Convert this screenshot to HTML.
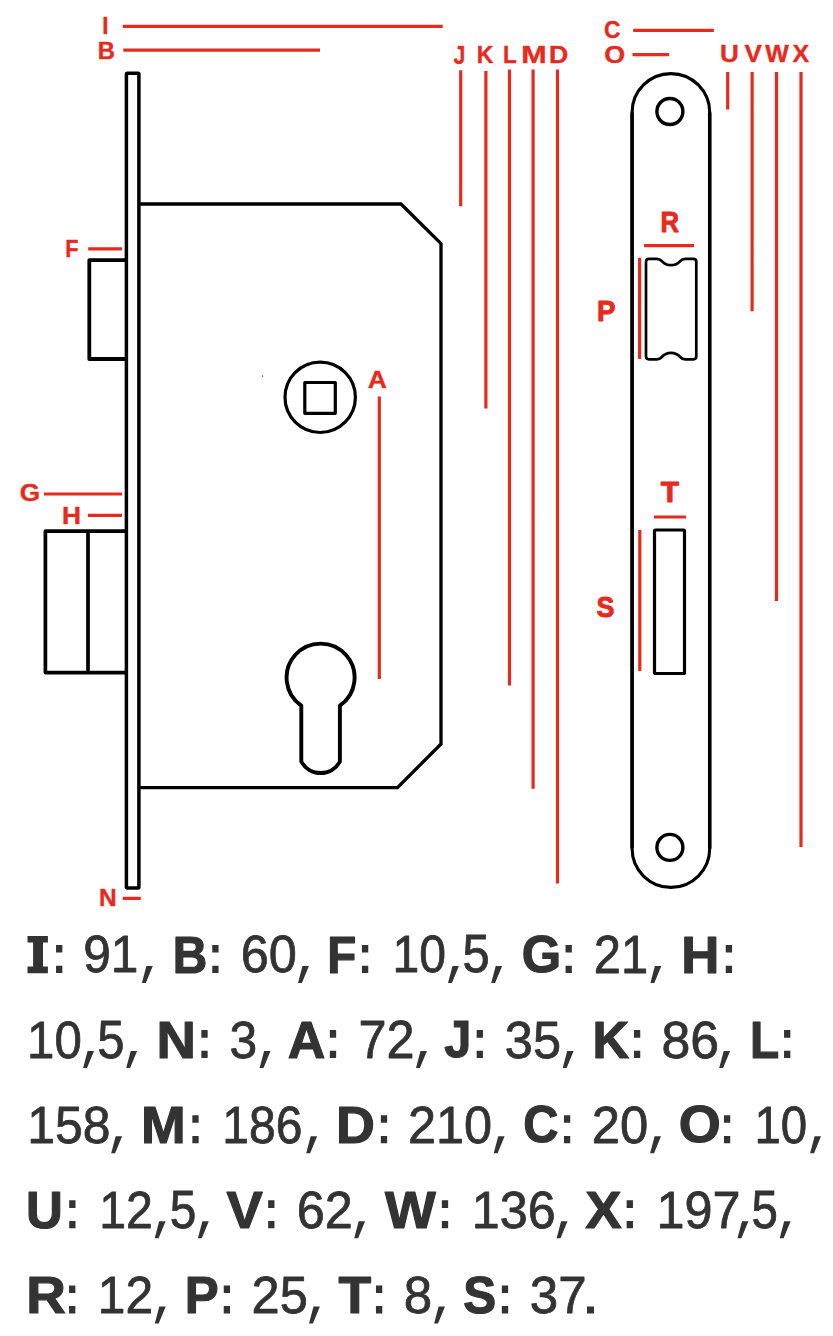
<!DOCTYPE html>
<html><head><meta charset="utf-8"><style>
html,body{margin:0;padding:0;background:#fff;}
body{width:833px;height:1336px;overflow:hidden;}
svg{display:block;}
</style></head><body>
<svg width="833" height="1336" viewBox="0 0 833 1336">
<g fill="none" stroke="#000" stroke-width="3.5" stroke-linejoin="round">
 <rect x="126.4" y="73.2" width="12.5" height="814.7" rx="1"/>
 <path d="M126.4 260.2H89.3V359H126.4" stroke-width="3.8"/>
 <path d="M126.4 531.2H45.4V672.6H126.4M88 531.2V672.6" stroke-width="3.7"/>
 <path d="M138.9 204H401L441 243.6V744L397.4 787.6H138.9" stroke-linejoin="miter" stroke-width="3.3"/>
 <circle cx="320.2" cy="397.3" r="35.2" stroke-width="3.2"/>
 <rect x="304.8" y="382.5" width="30.5" height="30.8" stroke-width="3.2"/>
 <path d="M301.3 761.6V705.6A34 34 0 1 1 339.9 705.6V761.6A22 22 0 0 1 301.3 761.6Z" stroke-width="3.9"/>
 <path d="M632.1 112.4A38.8 38.8 0 0 1 709.7 112.4V848.6A38.8 38.8 0 0 1 632.1 848.6Z" stroke-width="3.1"/>
 <path d="M632.1 112.4V848.6M709.7 112.4V848.6" stroke-width="3.5" stroke-linecap="butt"/>
 <circle cx="669.9" cy="111.5" r="13" stroke-width="3.4"/>
 <circle cx="669.9" cy="847.4" r="13" stroke-width="3.4"/>
 <path d="M649 258.8H656.8Q659.8 258.8 661.8 261.1Q665.5 265.2 671 265.2Q676.5 265.2 680.2 261.1Q682.2 258.8 685.2 258.8H693.3Q696.3 258.8 696.3 261.8V356.3Q696.3 359.3 693.3 359.3H685.2Q682.2 359.3 680.2 357Q676.5 352.9 671 352.9Q665.5 352.9 661.8 357Q659.8 359.3 656.8 359.3H649Q646 359.3 646 356.3V261.8Q646 258.8 649 258.8Z" stroke-width="2.7"/>
 <rect x="654.5" y="530" width="30" height="143.5" rx="1" stroke-width="3.2"/>
</g>
<rect x="262" y="375.5" width="1.2" height="1.2" fill="#555"/>
<path d="M122.8 26.4H442.7M123.3 50.2H320M88.2 248.8H122M44 494H122M88 515.3H122M122.8 898.3H140.8M633.2 30.4H713.9M632.5 54.6H669.1M644 245.6H694M653.9 517H686M379.3 396.5V678.9M460.7 70.3V206.2M485.9 71.1V408.6M509.5 69.5V685.5M533.1 69.5V788.8M557.5 69.5V883.6M727.7 72V109.4M752.1 72V311.3M776.5 72V600.9M801 72V846.9M639.6 257.7V358.9M639.8 530.1V671" fill="none" stroke="#e62b1e" stroke-width="3.2"/>
<g font-family="Liberation Sans" font-weight="bold" fill="#e62b1e" stroke="#e62b1e" stroke-linejoin="round">
<text transform="translate(102.31,33.56) scale(0.8979,0.9729)" font-size="25" stroke-width="0.4">I</text>
<text transform="translate(97.65,59.05) scale(0.9538,0.9891)" font-size="25" stroke-width="0.4">B</text>
<text transform="translate(65.13,256.76) scale(0.8700,0.9729)" font-size="25" stroke-width="0.4">F</text>
<text transform="translate(19.77,501.02) scale(1.0472,0.9519)" font-size="25" stroke-width="0.4">G</text>
<text transform="translate(61.95,523.55) scale(1.0542,0.9837)" font-size="25" stroke-width="0.4">H</text>
<text transform="translate(98.92,906.25) scale(0.9793,0.9891)" font-size="25" stroke-width="0.4">N</text>
<text transform="translate(367.69,388.15) scale(1.0610,0.9783)" font-size="25" stroke-width="0.4">A</text>
<text transform="translate(453.43,63.76) scale(0.8510,1.0003)" font-size="25" stroke-width="0.4">J</text>
<text transform="translate(476.68,62.95) scale(0.9208,0.9891)" font-size="25" stroke-width="0.4">K</text>
<text transform="translate(502.9,62.95) scale(0.9028,0.9837)" font-size="25" stroke-width="0.4">L</text>
<text transform="translate(521.18,62.95) scale(1.2215,0.9837)" font-size="25" stroke-width="0.4">M</text>
<text transform="translate(548.94,62.95) scale(1.0656,0.9837)" font-size="25" stroke-width="0.4">D</text>
<text transform="translate(603.97,38.17) scale(0.9180,0.9481)" font-size="25" stroke-width="0.4">C</text>
<text transform="translate(604.25,63.22) scale(1.0753,0.9521)" font-size="25" stroke-width="0.4">O</text>
<text transform="translate(719.99,61.82) scale(1.0431,0.9766)" font-size="25" stroke-width="0.4">U</text>
<text transform="translate(744.47,61.76) scale(1.0423,0.9729)" font-size="25" stroke-width="0.4">V</text>
<text transform="translate(765.37,61.76) scale(0.9997,0.9729)" font-size="25" stroke-width="0.4">W</text>
<text transform="translate(792.44,61.76) scale(0.9985,0.9729)" font-size="25" stroke-width="0.4">X</text>
<text transform="translate(660.47,232.29) scale(0.8302,0.9581)" font-size="31" stroke-width="1.0">R</text>
<text transform="translate(596.91,320.9) scale(0.8936,0.9451)" font-size="31" stroke-width="1.0">P</text>
<text transform="translate(660.7,502.08) scale(0.9658,0.9711)" font-size="31" stroke-width="1.0">T</text>
<text transform="translate(596.47,616.89) scale(0.8648,0.9651)" font-size="31" stroke-width="1.0">S</text>
</g>
<g font-family="Liberation Sans" font-size="53" fill="#333333" stroke="#333333" stroke-linejoin="round">
<text transform="translate(83.22,972.44) scale(0.9371,0.9827)" stroke-width="0.8">91</text>
<text transform="translate(172.64,972.71) scale(0.9021,0.9900)" font-weight="bold" stroke-width="1.2">B</text>
<text transform="translate(240.78,972.42) scale(0.9518,0.9821)" stroke-width="0.8">60</text>
<text transform="translate(327.16,972.71) scale(0.8971,0.9900)" font-weight="bold" stroke-width="1.2">F</text>
<text transform="translate(392.5,972.45) scale(0.9077,0.9829)" stroke-width="0.8">10</text>
<text transform="translate(462.48,972.4) scale(0.9221,0.9951)" stroke-width="0.8">5</text>
<text transform="translate(521.67,972.24) scale(0.9561,0.9641)" font-weight="bold" stroke-width="1.2">G</text>
<text transform="translate(593.78,972.91) scale(0.9220,0.9959)" stroke-width="0.8">21</text>
<text transform="translate(681.37,972.71) scale(0.9953,0.9900)" font-weight="bold" stroke-width="1.2">H</text>
<text transform="translate(27.03,1057.55) scale(0.9282,0.9829)" stroke-width="0.8">10</text>
<text transform="translate(97.28,1057.5) scale(0.9259,0.9951)" stroke-width="0.8">5</text>
<text transform="translate(156.57,1057.81) scale(1.0293,0.9900)" font-weight="bold" stroke-width="1.2">N</text>
<text transform="translate(229.6,1057.52) scale(0.9384,0.9821)" stroke-width="0.8">3</text>
<text transform="translate(287.76,1057.81) scale(0.9813,0.9900)" font-weight="bold" stroke-width="1.2">A</text>
<text transform="translate(358.47,1058.01) scale(0.9514,0.9951)" stroke-width="0.8">72</text>
<text transform="translate(444.21,1057.32) scale(0.9184,0.9769)" font-weight="bold" stroke-width="1.2">J</text>
<text transform="translate(504.87,1057.52) scale(0.9513,0.9821)" stroke-width="0.8">35</text>
<text transform="translate(592.47,1057.81) scale(0.9599,0.9900)" font-weight="bold" stroke-width="1.2">K</text>
<text transform="translate(661.42,1057.52) scale(0.9765,0.9821)" stroke-width="0.8">86</text>
<text transform="translate(749.95,1057.81) scale(0.9014,0.9900)" font-weight="bold" stroke-width="1.2">L</text>
<text transform="translate(27.18,1142.62) scale(0.9415,0.9821)" stroke-width="0.8">158</text>
<text transform="translate(141.02,1142.91) scale(1.0114,0.9900)" font-weight="bold" stroke-width="1.2">M</text>
<text transform="translate(222.31,1142.62) scale(0.9058,0.9821)" stroke-width="0.8">186</text>
<text transform="translate(336.11,1142.91) scale(1.0166,0.9900)" font-weight="bold" stroke-width="1.2">D</text>
<text transform="translate(408.01,1142.64) scale(0.9520,0.9827)" stroke-width="0.8">210</text>
<text transform="translate(523.32,1142.44) scale(0.9202,0.9641)" font-weight="bold" stroke-width="1.2">C</text>
<text transform="translate(591.7,1142.65) scale(0.9584,0.9829)" stroke-width="0.8">20</text>
<text transform="translate(678.86,1142.44) scale(1.0201,0.9641)" font-weight="bold" stroke-width="1.2">O</text>
<text transform="translate(754.45,1142.65) scale(0.8947,0.9829)" stroke-width="0.8">10</text>
<text transform="translate(25.91,1227.52) scale(0.9620,0.9769)" font-weight="bold" stroke-width="1.2">U</text>
<text transform="translate(99.19,1228.21) scale(0.9105,0.9951)" stroke-width="0.8">12</text>
<text transform="translate(169.72,1227.7) scale(0.9027,0.9951)" stroke-width="0.8">5</text>
<text transform="translate(226.6,1228.01) scale(1.0271,0.9900)" font-weight="bold" stroke-width="1.2">V</text>
<text transform="translate(296.68,1227.72) scale(0.9513,0.9821)" stroke-width="0.8">62</text>
<text transform="translate(384.96,1228.01) scale(1.0154,0.9900)" font-weight="bold" stroke-width="1.2">W</text>
<text transform="translate(471.86,1227.72) scale(0.9481,0.9821)" stroke-width="0.8">136</text>
<text transform="translate(585.35,1228.01) scale(1.0292,0.9900)" font-weight="bold" stroke-width="1.2">X</text>
<text transform="translate(656.55,1227.75) scale(0.9494,0.9828)" stroke-width="0.8">197</text>
<text transform="translate(751.43,1227.7) scale(0.8949,0.9951)" stroke-width="0.8">5</text>
<text transform="translate(26.35,1313.11) scale(1.0356,0.9900)" font-weight="bold" stroke-width="1.2">R</text>
<text transform="translate(97.79,1313.31) scale(0.9387,0.9951)" stroke-width="0.8">12</text>
<text transform="translate(184.77,1313.11) scale(0.9593,0.9900)" font-weight="bold" stroke-width="1.2">P</text>
<text transform="translate(251.51,1312.85) scale(0.9542,0.9836)" stroke-width="0.8">25</text>
<text transform="translate(338.51,1313.11) scale(1.0089,0.9900)" font-weight="bold" stroke-width="1.2">T</text>
<text transform="translate(403.75,1312.82) scale(0.9623,0.9821)" stroke-width="0.8">8</text>
<text transform="translate(463.27,1312.64) scale(0.9311,0.9641)" font-weight="bold" stroke-width="1.2">S</text>
<text transform="translate(529.85,1312.82) scale(0.9641,0.9821)" stroke-width="0.8">37</text>
</g>
<path d="M27.5 936H47.9V942.6H43V966.5H47.9V973.2H27.5V966.5H33.1V942.6H27.5ZM56.05 945h6.3v7.6h-6.3zM56.05 965.7h6.3v7.3h-6.3zM146.4 966H152.8L145.8 983H141.9ZM212.25 945h6.3v7.6h-6.3zM212.25 965.7h6.3v7.3h-6.3zM302.5 966H308.9L301.9 983H298ZM361.95 945h6.3v7.6h-6.3zM361.95 965.7h6.3v7.3h-6.3zM452.5 966H458.9L451.9 983H448ZM495.7 966H502.1L495.1 983H491.2ZM565.55 945h6.3v7.6h-6.3zM565.55 965.7h6.3v7.3h-6.3zM654.9 966H661.3L654.3 983H650.4ZM725.75 945h6.3v7.6h-6.3zM725.75 965.7h6.3v7.3h-6.3zM87.6 1051.1H94L87 1068.1H83.1ZM130.7 1051.1H137.1L130.1 1068.1H126.2ZM201.35 1030.1h6.3v7.6h-6.3zM201.35 1050.8h6.3v7.3h-6.3zM264.1 1051.1H270.5L263.5 1068.1H259.6ZM329.85 1030.1h6.3v7.6h-6.3zM329.85 1050.8h6.3v7.3h-6.3zM420.5 1051.1H426.9L419.9 1068.1H416ZM476.65 1030.1h6.3v7.6h-6.3zM476.65 1050.8h6.3v7.3h-6.3zM567.2 1051.1H573.6L566.6 1068.1H562.7ZM633.95 1030.1h6.3v7.6h-6.3zM633.95 1050.8h6.3v7.3h-6.3zM723.7 1051.1H730.1L723.1 1068.1H719.2ZM784.05 1030.1h6.3v7.6h-6.3zM784.05 1050.8h6.3v7.3h-6.3zM115.7 1136.2H122.1L115.1 1153.2H111.2ZM192.35 1115.2h6.3v7.6h-6.3zM192.35 1135.9h6.3v7.3h-6.3zM310.7 1136.2H317.1L310.1 1153.2H306.2ZM380.85 1115.2h6.3v7.6h-6.3zM380.85 1135.9h6.3v7.3h-6.3zM498.2 1136.2H504.6L497.6 1153.2H493.7ZM563.95 1115.2h6.3v7.6h-6.3zM563.95 1135.9h6.3v7.3h-6.3zM654.6 1136.2H661L654 1153.2H650.1ZM723.95 1115.2h6.3v7.6h-6.3zM723.95 1135.9h6.3v7.3h-6.3zM814.6 1136.2H821L814 1153.2H810.1ZM69.2 1200.3h6.3v7.6h-6.3zM69.2 1221h6.3v7.3h-6.3zM159.2 1221.3H165.6L158.6 1238.3H154.7ZM202.4 1221.3H208.8L201.8 1238.3H197.9ZM268.15 1200.3h6.3v7.6h-6.3zM268.15 1221h6.3v7.3h-6.3zM358.7 1221.3H365.1L358.1 1238.3H354.2ZM441.85 1200.3h6.3v7.6h-6.3zM441.85 1221h6.3v7.3h-6.3zM561.1 1221.3H567.5L560.5 1238.3H556.6ZM626.65 1200.3h6.3v7.6h-6.3zM626.65 1221h6.3v7.3h-6.3zM742 1221.3H748.4L741.4 1238.3H737.5ZM784.2 1221.3H790.6L783.6 1238.3H779.7ZM69.05 1285.4h6.3v7.6h-6.3zM69.05 1306.1h6.3v7.3h-6.3zM159.3 1306.4H165.7L158.7 1323.4H154.8ZM223.75 1285.4h6.3v7.6h-6.3zM223.75 1306.1h6.3v7.3h-6.3zM313.5 1306.4H319.9L312.9 1323.4H309ZM375.95 1285.4h6.3v7.6h-6.3zM375.95 1306.1h6.3v7.3h-6.3zM438.6 1306.4H445L438 1323.4H434.1ZM501.85 1285.4h6.3v7.6h-6.3zM501.85 1306.1h6.3v7.3h-6.3zM587 1306.6H594V1313.4H587Z" fill="#333333"/>
</svg>
</body></html>
